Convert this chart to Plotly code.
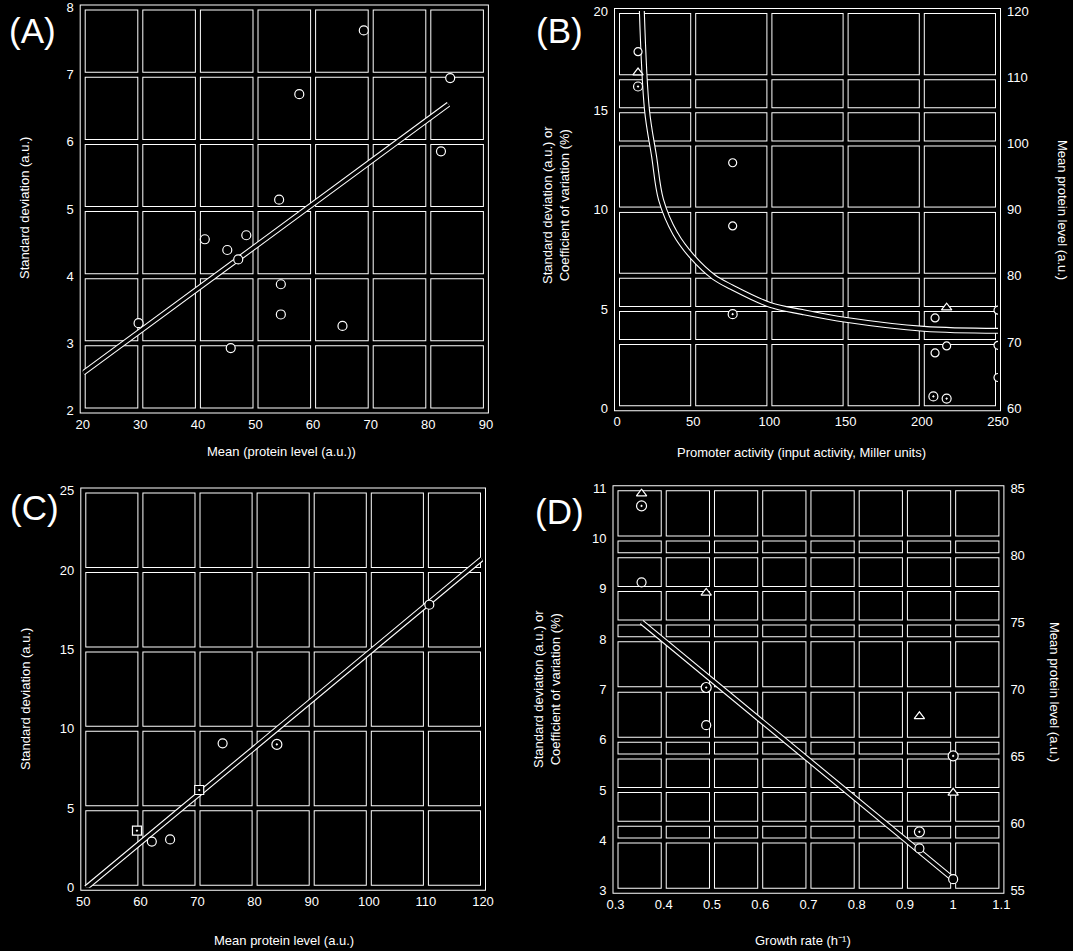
import plotly.graph_objects as go

W, H = 1073, 951
FONT = "Liberation Sans, Arial, sans-serif"

# ---- panel A
a_x = [68.8, 83.8, 57.6, 82.2, 54.1, 41.2, 48.4, 45.1, 47.0, 29.7, 54.4, 54.4, 65.1, 45.7]
a_y = [7.66, 6.95, 6.71, 5.86, 5.14, 4.55, 4.61, 4.39, 4.25, 3.30, 3.88, 3.43, 3.26, 2.93]
a_fit_x = [20.1, 83.5]
a_fit_y = [2.56, 6.56]
a_xticks = [20, 30, 40, 50, 60, 70, 80, 90]
a_yticks = [2, 3, 4, 5, 6, 7, 8]

# ---- panel B
b_circ_x = [13.8, 75.9, 75.9, 208.7, 216.3, 208.7, 250, 250, 250]
b_circ_y = [17.95, 12.36, 9.18, 4.55, 3.14, 2.79, 4.94, 3.17, 1.55]
b_open_x = [13.8, 75.9, 207.6, 216.3]
b_open_y = [16.2, 4.74, 0.60, 0.49]
b_tri_x = [13.8, 216.3]
b_tri_y = [110.7, 75.2]
b_curve_x = [16.3, 19.7, 24.3, 28.9, 38.2, 49.7, 63.6, 75.2, 100.6, 121.5, 150.4, 201.3, 250]
b_curve_y = [20.0, 15.0, 12.7, 10.5, 8.8, 7.6, 6.6, 6.1, 5.2, 4.85, 4.45, 4.0, 3.9]
b_xticks = [0, 50, 100, 150, 200, 250]
b_yticks = [0, 5, 10, 15, 20]
b_y2ticks = [60, 70, 80, 90, 100, 110, 120]

# ---- panel C
c_circ_x = [62.0, 65.2, 74.4, 110.6]
c_circ_y = [2.90, 3.04, 9.09, 17.81]
c_open_x = [83.9]
c_open_y = [9.02]
c_sq_x = [59.4, 70.3]
c_sq_y = [3.59, 6.15]
c_fit_x = [50.5, 119.8]
c_fit_y = [0.0, 20.7]
c_xticks = [50, 60, 70, 80, 90, 100, 110, 120]
c_yticks = [0, 5, 10, 15, 20, 25]

# ---- panel D
d_circ_x = [0.354, 0.488, 0.93, 1.0]
d_circ_y = [9.13, 6.29, 3.84, 3.23]
d_open_x = [0.354, 0.488, 1.0, 0.93]
d_open_y = [10.65, 7.04, 5.68, 4.17]
d_tri_x = [0.354, 0.488, 0.93, 1.0]
d_tri_y = [84.6, 77.2, 68.0, 62.3]
d_fit_x = [0.354, 1.0]
d_fit_y = [8.34, 3.23]
d_xticks = [0.3, 0.4, 0.5, 0.6, 0.7, 0.8, 0.9, 1.0, 1.1]
d_xlabels = ["0.3", "0.4", "0.5", "0.6", "0.7", "0.8", "0.9", "1", "1.1"]
d_yticks = [3, 4, 5, 6, 7, 8, 9, 10, 11]
d_y2ticks = [55, 60, 65, 70, 75, 80, 85]


def px(v):
    return v / W


def py(v):
    return 1 - v / H


fig = go.Figure()


def grid(xa, ya, xt, yt, ya2=None, yt2=()):
    # thick white line with a thinner black one on top -> outlined look
    for color, w in (("white", 6), ("black", 4)):
        for v in xt[1:-1]:
            fig.add_shape(type="line", xref=xa, yref=ya + " domain", x0=v, x1=v, y0=0, y1=1,
                          line=dict(color=color, width=w), layer="below")
        for v in yt[1:-1]:
            fig.add_shape(type="line", xref=xa + " domain", yref=ya, x0=0, x1=1, y0=v, y1=v,
                          line=dict(color=color, width=w), layer="below")
        for v in yt2[1:-1]:
            fig.add_shape(type="line", xref=xa + " domain", yref=ya2, x0=0, x1=1, y0=v, y1=v,
                          line=dict(color=color, width=w), layer="below")
        fig.add_shape(type="rect", xref=xa + " domain", yref=ya + " domain", x0=0, x1=1, y0=0, y1=1,
                      line=dict(color=color, width=w), layer="below")


def fit_line(x, y, xa, ya, shape="linear", w=5.5):
    fig.add_trace(go.Scatter(x=x, y=y, xaxis=xa, yaxis=ya, mode="lines", line_shape=shape,
                             line=dict(color="white", width=w), hoverinfo="skip"))
    fig.add_trace(go.Scatter(x=x, y=y, xaxis=xa, yaxis=ya, mode="lines", line_shape=shape,
                             line=dict(color="black", width=w - 2.2), hoverinfo="skip"))


def pts(x, y, xa, ya, symbol="circle", size=9):
    fig.add_trace(go.Scatter(x=x, y=y, xaxis=xa, yaxis=ya, mode="markers",
                             marker=dict(symbol=symbol, size=size, color="black",
                                         line=dict(color="white", width=1.2))))


grid("x", "y", a_xticks, a_yticks)
grid("x2", "y2", b_xticks, b_yticks, "y3", b_y2ticks)
grid("x3", "y4", c_xticks, c_yticks)
grid("x4", "y5", d_xticks, d_yticks, "y6", d_y2ticks)

fit_line(a_fit_x, a_fit_y, "x", "y")
pts(a_x, a_y, "x", "y")

fit_line(b_curve_x, b_curve_y, "x2", "y2", shape="spline", w=6)
pts(b_circ_x, b_circ_y, "x2", "y2", size=8)
pts(b_open_x, b_open_y, "x2", "y2", symbol="circle-dot", size=9)
pts(b_tri_x, b_tri_y, "x2", "y3", symbol="triangle-up", size=9)

fit_line(c_fit_x, c_fit_y, "x3", "y4")
pts(c_circ_x, c_circ_y, "x3", "y4")
pts(c_open_x, c_open_y, "x3", "y4", symbol="circle-dot", size=10)
pts(c_sq_x, c_sq_y, "x3", "y4", symbol="square-dot", size=9)

fit_line(d_fit_x, d_fit_y, "x4", "y5")
pts(d_circ_x, d_circ_y, "x4", "y5")
pts(d_open_x, d_open_y, "x4", "y5", symbol="circle-dot", size=10)
pts(d_tri_x, d_tri_y, "x4", "y6", symbol="triangle-up", size=9)

tf = dict(color="white", size=13, family=FONT)
base = dict(showgrid=False, zeroline=False, showline=False, ticks="", tickfont=tf, automargin=False)


def xax(dom, rng, ticks, anchor, labels=None):
    return dict(base, domain=[px(dom[0]), px(dom[1])], range=rng, tickvals=ticks,
                ticktext=labels if labels else [str(t) for t in ticks], anchor=anchor,
                ticklabelstandoff=4)


def yax(dom, rng, ticks, anchor, **kw):
    return dict(base, domain=[py(dom[1]), py(dom[0])], range=rng, tickvals=ticks,
                ticktext=[str(t) for t in ticks], anchor=anchor, ticklabelstandoff=8, **kw)


fig.update_layout(
    width=W, height=H, margin=dict(l=0, r=0, t=0, b=0),
    paper_bgcolor="black", plot_bgcolor="black", showlegend=False,
    xaxis=xax((82.7, 485.9), [20, 90], a_xticks, "y"),
    yaxis=yax((7.6, 410.5), [2, 8], a_yticks, "x"),
    xaxis2=xax((617, 998), [0, 250], b_xticks, "y2"),
    yaxis2=yax((11, 408.3), [0, 20], b_yticks, "x2"),
    yaxis3=yax((11, 408.3), [60, 120], b_y2ticks, "x2", overlaying="y2", side="right"),
    xaxis3=xax((83.3, 483), [50, 120], c_xticks, "y4"),
    yaxis4=yax((490.5, 887.7), [0, 25], c_yticks, "x3"),
    xaxis4=xax((615.5, 1001.4), [0.3, 1.1], d_xticks, "y5", d_xlabels),
    yaxis5=yax((488.3, 890.7), [3, 11], d_yticks, "x4"),
    yaxis6=yax((488.3, 890.7), [55, 85], d_y2ticks, "x4", overlaying="y5", side="right"),
)


def note(text, x, y, size=13, angle=0):
    fig.add_annotation(text=text, x=px(x), y=py(y), xref="paper", yref="paper",
                       showarrow=False, textangle=angle, xanchor="center", yanchor="middle",
                       font=dict(color="white", size=size, family=FONT))


for lab, x, y in (("(A)", 32, 30), ("(B)", 560, 30), ("(C)", 35, 507), ("(D)", 560, 511)):
    note(lab, x, y, size=35)

note("Standard deviation (a.u.)", 25, 208, angle=-90)
note("Mean (protein level (a.u.))", 281, 452)
note("Standard deviation (a.u.) or<br>Coefficient of variation (%)", 556, 205, angle=-90)
note("Mean protein level (a.u.)", 1062, 210, angle=90)
note("Promoter activity (input activity, Miller units)", 801, 453)
note("Standard deviation (a.u.)", 25, 699, angle=-90)
note("Mean protein level (a.u.)", 284, 940)
note("Standard deviation (a.u.) or<br>Coefficient of variation (%)", 547, 689, angle=-90)
note("Mean protein level (a.u.)", 1055, 692, angle=90)
note("Growth rate (h⁻¹)", 803, 940)

fig.write_html("out.html", config={"displayModeBar": False},
               post_script="document.body.style.margin='0';document.body.style.background='black';")
